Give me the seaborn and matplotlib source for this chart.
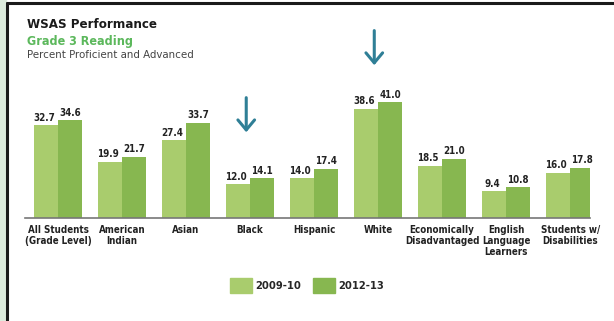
import matplotlib
matplotlib.use("Agg")
import matplotlib.pyplot as plt
from matplotlib.patches import Rectangle
from matplotlib.lines import Line2D
import seaborn as sns
import pandas as pd

categories = ["All Students\n(Grade Level)", "American\nIndian", "Asian", "Black", "Hispanic",
              "White", "Economically\nDisadvantaged", "English\nLanguage\nLearners", "Students w/\nDisabilities"]
series_names = ["2009-10", "2012-13"]
values_2009 = [32.7, 19.9, 27.4, 12.0, 14.0, 38.6, 18.5, 9.4, 16.0]
values_2012 = [34.6, 21.7, 33.7, 14.1, 17.4, 41.0, 21.0, 10.8, 17.8]
arrow_categories = ["Black", "White"]

df = pd.DataFrame({
    "cat": categories * 2,
    "year": [series_names[0]] * len(categories) + [series_names[1]] * len(categories),
    "val": values_2009 + values_2012,
})

sns.set_theme(style="white")
plt.rcParams['font.family'] = ['DejaVu Sans']
LBL = dict(family=['Liberation Sans Narrow', 'DejaVu Sans'], fontstretch="condensed")

W, H = 614, 321
fig = plt.figure(figsize=(W / 100, H / 100), dpi=100)
fig.patch.set_facecolor("white")

# frame decoration
fig.add_artist(Rectangle((0, 0), 6 / W, 1, transform=fig.transFigure, color="#dcebdc", zorder=0))
fig.add_artist(Line2D([7 / W, 7 / W], [0, 1 - 3 / H], transform=fig.transFigure, color="#1a1a1a", lw=2.2))
fig.add_artist(Line2D([7 / W, 1], [1 - 3 / H, 1 - 3 / H], transform=fig.transFigure, color="#1a1a1a", lw=2.2))

ppu = 2.83  # pixels per unit
ymax = 50
base = 218
ax = fig.add_axes([25 / W, (H - base) / H, (590 - 25) / W, ymax * ppu / H])
palette = {"2009-10": "#a9cc6d", "2012-13": "#87b750"}
sns.barplot(data=df, x="cat", y="val", hue="year", palette=palette, width=0.75,
            saturation=1, ax=ax, legend=False, edgecolor="none")
ax.set_xlim(-0.516, 8.31)
ax.set_ylim(0, ymax)
for s in ["top", "right", "left"]:
    ax.spines[s].set_visible(False)
ax.spines["bottom"].set_color("#777777")
ax.spines["bottom"].set_linewidth(1.2)
ax.set_yticks([])
ax.set_xlabel("")
ax.set_ylabel("")
ax.tick_params(axis="x", length=0, pad=5)
ax.set_xticks(range(len(categories)))
ax.set_xticklabels(categories, fontsize=7, fontweight="bold", color="#222222", linespacing=1.1, va="top", **LBL)

for k, cont in enumerate(ax.containers):
    for bar in cont:
        h = bar.get_height()
        ax.text(bar.get_x() + bar.get_width() / 2 + (-0.03 if k == 0 else 0.0), h + 0.8, f"{h:.1f}",
                ha="center", va="bottom", fontsize=7, fontweight="bold", color="#222222", **LBL)

# arrows (tip offset above bar top, in data units)
arrow_tip = [15.2, 12.0]
for c, off in zip(arrow_categories, arrow_tip):
    i = categories.index(c)
    top = max(values_2009[i], values_2012[i])
    ax.annotate("", xy=(i - 0.06, top + off), xytext=(i - 0.06, top + off + 14.2),
                arrowprops=dict(arrowstyle="->,head_length=0.6,head_width=0.5", color="#2f7f96", lw=2.2),
                annotation_clip=False)

# titles
fig.text(27 / W, 1 - 25 / H, "WSAS Performance", fontsize=9.5, fontweight="bold", color="#1a1a1a", va="center",
         fontstretch="condensed")
fig.text(27 / W, 1 - 41 / H, "Grade 3 Reading", fontsize=9, fontweight="bold", color="#5cb85c", va="center",
         fontstretch="condensed")
fig.text(27 / W, 1 - 55 / H, "Percent Proficient and Advanced", fontsize=8.2, color="#444444", va="center",
         fontstretch="condensed")

# legend
handles = [Rectangle((0, 0), 1, 1, color=palette[n]) for n in series_names]
fig.legend(handles, series_names, loc="center", bbox_to_anchor=(307 / W, 1 - 285 / H), ncol=2, frameon=False,
           prop=dict(size=8, weight="bold", family=LBL["family"], stretch="condensed"),
           handlelength=2.05, handleheight=1.7, columnspacing=1.0, handletextpad=0.3)

fig.savefig("out.png", dpi=100)
